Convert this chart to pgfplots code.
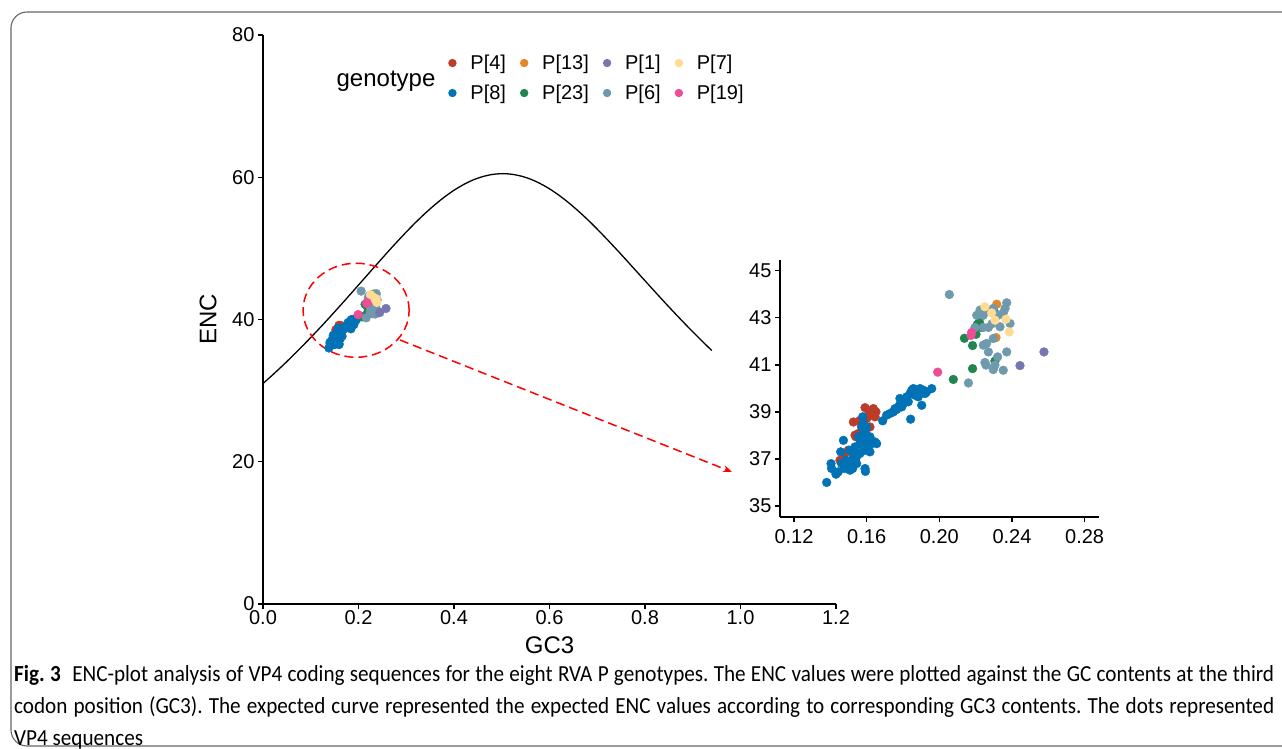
\documentclass[border=0pt]{standalone}
\usepackage{fontspec}
\setmainfont{Liberation Sans}
\newfontfamily\capfont{Carlito}[FakeStretch=0.92]
\usepackage{pgfplots}
\usepackage{pgfplotstable}
\pgfplotsset{compat=1.18}
\usetikzlibrary{arrows.meta}
\definecolor{cP4}{HTML}{BC3C29}
\definecolor{cP8}{HTML}{0072B5}
\definecolor{cP13}{HTML}{E18727}
\definecolor{cP23}{HTML}{20854E}
\definecolor{cP1}{HTML}{7876B1}
\definecolor{cP6}{HTML}{6F99AD}
\definecolor{cP7}{HTML}{FFDC91}
\definecolor{cP19}{HTML}{EE4C97}

\pgfplotstableread{
x y
0.1380 36.00
0.1404 36.80
0.1407 36.59
0.1431 36.35
0.1444 36.45
0.1457 37.30
0.1472 37.79
0.1486 36.94
0.1490 36.66
0.1508 37.37
0.1517 36.80
0.1527 37.09
0.1536 37.51
0.1545 37.23
0.1554 37.94
0.1563 37.65
0.1572 38.36
0.1578 38.79
0.1582 38.50
0.1591 38.15
0.1591 37.37
0.1600 37.79
0.1591 36.59
0.1593 36.47
0.1609 37.51
0.1618 37.94
0.1618 37.30
0.1628 37.65
0.1646 37.72
0.1655 37.65
0.1508 36.52
0.1499 36.87
0.1462 36.80
0.1480 36.59
0.1545 36.80
0.1563 37.23
0.1582 37.94
0.1600 38.36
0.1582 37.51
0.1523 36.59
0.1541 37.02
0.1688 38.62
0.1710 38.86
0.1728 38.93
0.1747 39.00
0.1765 39.10
0.1780 39.28
0.1793 39.21
0.1783 39.57
0.1811 39.50
0.1820 39.64
0.1839 39.78
0.1848 39.92
0.1857 39.99
0.1875 39.92
0.1894 39.99
0.1912 39.92
0.1921 39.78
0.1958 39.99
0.1903 39.28
0.1842 38.69
0.1866 39.71
0.1829 39.43
0.1802 39.35
0.1756 39.14
0.1884 39.64
0.1930 39.85
}\dataPviii

\pgfplotstableread{
x y
0.1591 39.18
0.1637 39.14
0.1651 39.00
0.1618 38.86
0.1600 38.72
0.1527 38.57
0.1563 38.64
0.1633 38.86
0.1536 38.01
0.1554 38.08
0.1541 37.94
0.1480 37.23
0.1453 36.94
0.1499 37.37
0.1618 38.36
0.1646 38.79
0.1610 39.05
0.1570 38.50
}\dataPiv

\pgfplotstableread{
x y
0.2077 40.38
0.2183 40.84
0.2183 41.82
0.2138 42.13
0.2202 42.30
0.2209 42.72
0.2233 42.59
0.2220 42.83
0.2306 41.16
0.2300 43.30
}\dataPxxiii

\pgfplotstableread{
x y
0.2055 43.99
0.2160 40.23
0.2206 43.11
0.2224 43.33
0.2242 43.11
0.2270 43.33
0.2297 43.40
0.2325 43.11
0.2352 43.21
0.2371 43.64
0.2362 43.40
0.2389 42.76
0.2334 42.62
0.2270 42.59
0.2242 42.59
0.2196 42.59
0.2297 42.12
0.2260 41.91
0.2242 41.84
0.2270 41.55
0.2321 41.34
0.2371 41.55
0.2251 41.10
0.2257 40.99
0.2306 40.99
0.2297 40.80
0.2352 40.77
0.2290 42.75
}\dataPvi

\pgfplotstableread{
x y
0.2316 43.58
0.2312 42.16
}\dataPxiii

\pgfplotstableread{
x y
0.2251 43.47
0.2288 43.21
0.2306 42.90
0.2367 42.94
0.2385 42.40
}\dataPvii

\pgfplotstableread{
x y
0.2576 41.55
0.2444 40.97
}\dataPi

\pgfplotstableread{
x y
0.1991 40.69
0.2174 42.25
0.2178 42.38
}\dataPxix

\pgfplotsset{
  dot/.style={only marks, mark=*, mark size=4.4pt, color=#1, mark options={draw=none, fill=#1}},
  ggaxis/.style={
    scale only axis,
    axis x line*=bottom, axis y line*=left,
    axis line style={-, line width=1.3pt, black},
    tick align=outside,
    major tick length=5pt,
    every tick/.style={black, line width=1.3pt},
    tick label style={font=\fontsize{20}{24}\selectfont},
    /pgf/number format/assume math mode=true,
    clip=false,
  },
}

\begin{document}
\begin{tikzpicture}[x=1pt,y=1pt]
\useasboundingbox (0,0) rectangle (1282,749);
\draw[rounded corners=16pt, line width=1.1pt, black!60] (11,737) rectangle (1330,3);

% main axis
\begin{axis}[ggaxis,
  at={(263pt,145pt)}, anchor=south west,
  width=573pt, height=569pt,
  xmin=0, xmax=1.2, ymin=0, ymax=80,
  xtick={0,0.2,0.4,0.6,0.8,1.0,1.2},
  ytick={0,20,40,60,80},
  xticklabel style={/pgf/number format/fixed, /pgf/number format/fixed zerofill, /pgf/number format/precision=1, inner sep=0pt, yshift=-1pt},
  xlabel={GC3}, ylabel={ENC},
  label style={font=\fontsize{24}{28}\selectfont},
  xlabel style={at={(rel axis cs:0.5,0)}, anchor=center, yshift=-41pt},
  ylabel style={at={(rel axis cs:0,0.5)}, anchor=center, yshift=55pt},
  legend columns=4,
  legend cell align=left,
  legend image code/.code={\fill[#1, draw=none] (0pt,0pt) circle[radius=4.2pt]; \path[draw=none, fill=none] (-4pt,0pt) -- (18pt,0pt);},
  legend style={draw=none, fill=none, inner sep=0pt, at={(rel axis cs:0.3229,0.9244)}, anchor=west,
    font=\fontsize{20}{24}\selectfont, row sep=14pt,
    nodes={inner xsep=0pt, inner ysep=0pt},
    /tikz/every even column/.append style={column sep=14pt}},
]
\addplot[black, line width=1.3pt, smooth, forget plot] coordinates {
(0.00,31.00) (0.02,32.20) (0.04,33.45) (0.06,34.75) (0.08,36.09) (0.10,37.47)
(0.12,38.88) (0.14,40.34) (0.16,41.82) (0.18,43.33) (0.20,44.85) (0.22,46.37)
(0.24,47.89) (0.26,49.40) (0.28,50.87) (0.30,52.30) (0.32,53.67) (0.34,54.95)
(0.36,56.14) (0.38,57.22) (0.40,58.17) (0.42,58.97) (0.44,59.62) (0.46,60.09)
(0.48,60.39) (0.50,60.50) (0.52,60.43) (0.54,60.17) (0.56,59.74) (0.58,59.13)
(0.60,58.37) (0.62,57.46) (0.64,56.42) (0.66,55.27) (0.68,54.03) (0.70,52.70)
(0.72,51.31) (0.74,49.88) (0.76,48.42) (0.78,46.93) (0.80,45.45) (0.82,43.97)
(0.84,42.50) (0.86,41.06) (0.88,39.65) (0.90,38.27) (0.92,36.93) (0.94,35.63)
};
\addplot[dot=cP4, forget plot] table {\dataPiv};
\addplot[dot=cP8, forget plot] table {\dataPviii};
\addplot[dot=cP13, forget plot] table {\dataPxiii};
\addplot[dot=cP23, forget plot] table {\dataPxxiii};
\addplot[dot=cP6, forget plot] table {\dataPvi};
\addplot[dot=cP7, forget plot] table {\dataPvii};
\addplot[dot=cP1, forget plot] table {\dataPi};
\addplot[dot=cP19, forget plot] table {\dataPxix};
\draw[red, line width=1.5pt, dash pattern=on 9pt off 5pt] (axis cs:0.195,41.3) ellipse [x radius=53pt, y radius=47pt];
\addlegendimage{cP4}
\addlegendentry{P[4]}
\addlegendimage{cP13}
\addlegendentry{P[13]}
\addlegendimage{cP1}
\addlegendentry{P[1]}
\addlegendimage{cP7}
\addlegendentry{P[7]}
\addlegendimage{cP8}
\addlegendentry{P[8]}
\addlegendimage{cP23}
\addlegendentry{P[23]}
\addlegendimage{cP6}
\addlegendentry{P[6]}
\addlegendimage{cP19}
\addlegendentry{P[19]}
\end{axis}

% inset axis
\begin{axis}[ggaxis,
  at={(780pt,232pt)}, anchor=south west,
  width=319pt, height=257pt,
  xmin=0.1123, xmax=0.2879, ymin=34.53, ymax=45.46,
  xtick={0.12,0.16,0.20,0.24,0.28},
  xticklabels={0.12,0.16,0.20,0.24,0.28},
  xticklabel style={yshift=-4pt},
  ytick={35,37,39,41,43,45},
]
\addplot[dot=cP4] table {\dataPiv};
\addplot[dot=cP8] table {\dataPviii};
\addplot[dot=cP13] table {\dataPxiii};
\addplot[dot=cP23] table {\dataPxxiii};
\addplot[dot=cP6] table {\dataPvi};
\addplot[dot=cP7] table {\dataPvii};
\addplot[dot=cP1] table {\dataPi};
\addplot[dot=cP19] table {\dataPxix};
\end{axis}

\draw[red, line width=1.5pt, dash pattern=on 9pt off 5pt, -{Stealth[length=9pt,width=7pt]}] (400,409) -- (732,277);
\node[font=\fontsize{24}{28}\selectfont] at (386,668) {genotype};
\node[anchor=north west, text width=1260pt, align=justify, inner sep=0pt,
      font=\capfont\fontsize{23}{32}\selectfont] at (14,84)
 {\frenchspacing\textbf{Fig. 3}\enspace ENC-plot analysis of VP4 coding sequences for the eight RVA P genotypes. The ENC values were plotted against the GC contents at the third\linebreak
 codon position (GC3). The expected curve represented the expected ENC values according to corresponding GC3 contents. The dots represented\linebreak
 VP4 sequences};
\end{tikzpicture}
\end{document}
